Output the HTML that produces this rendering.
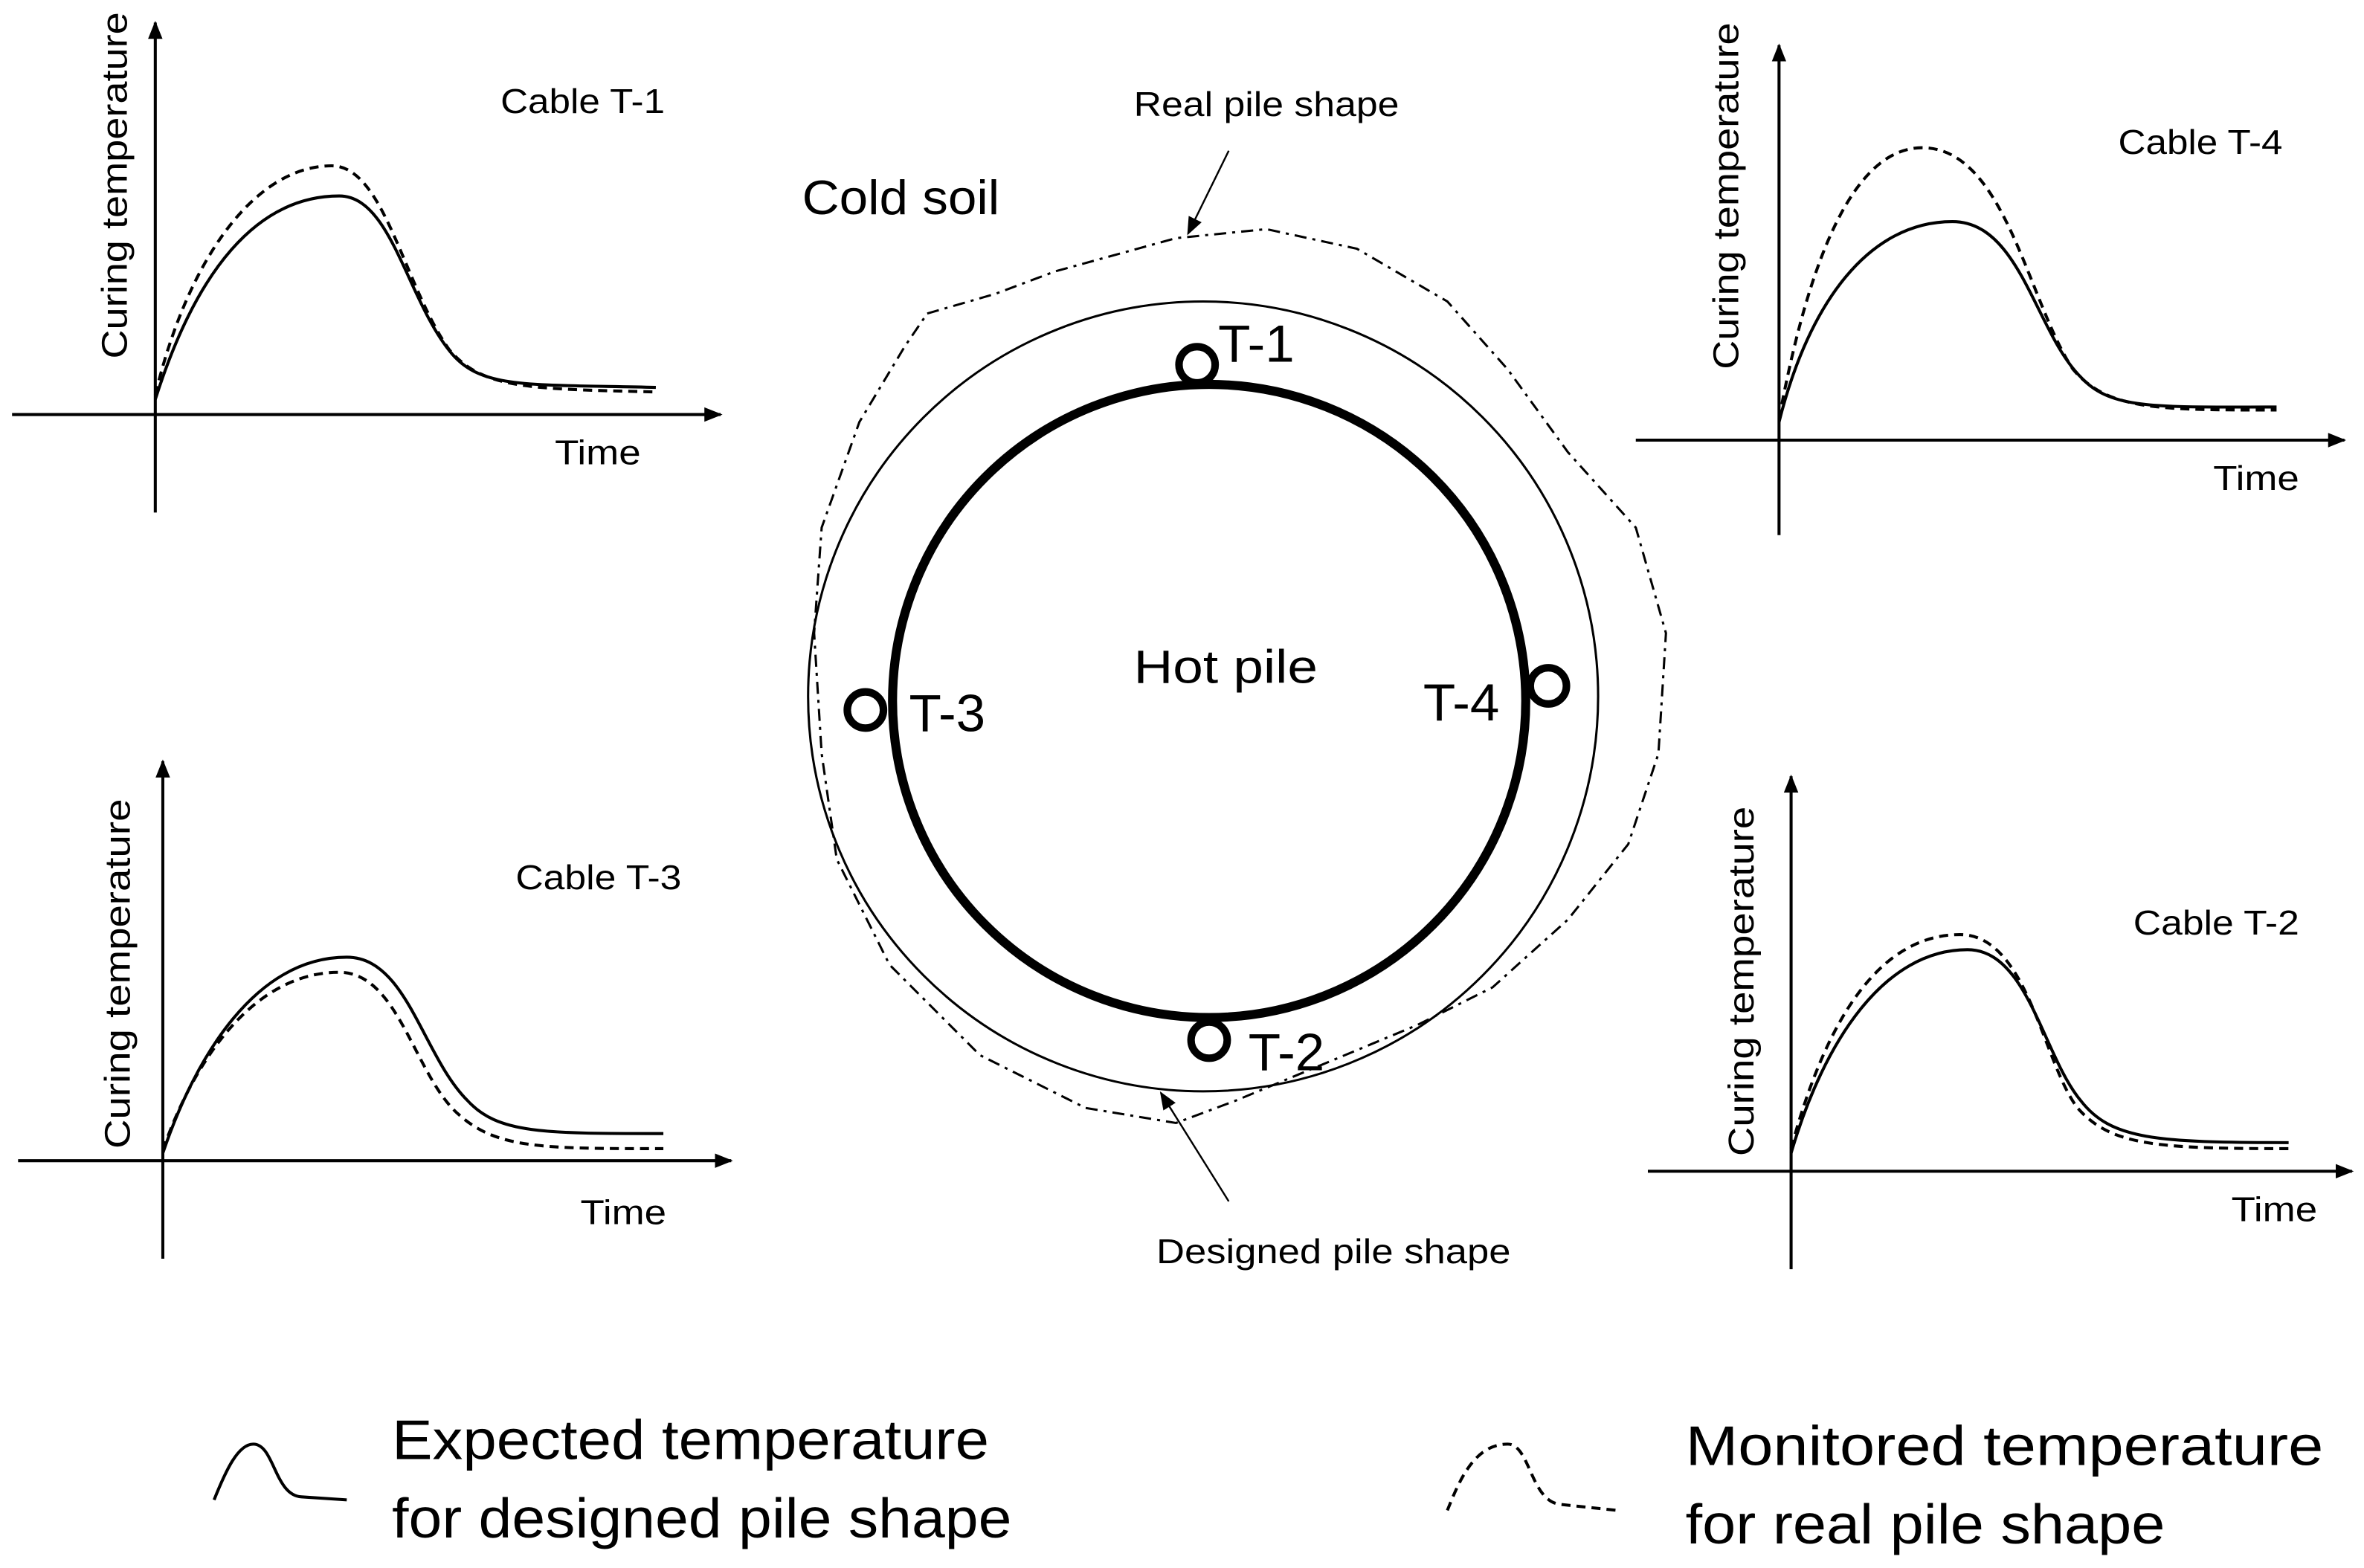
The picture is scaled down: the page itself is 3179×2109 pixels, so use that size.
<!DOCTYPE html>
<html><head><meta charset="utf-8"><style>html,body{margin:0;padding:0;background:#fff}svg{display:block}</style></head><body>
<svg xmlns="http://www.w3.org/2000/svg" width="3179" height="2109" viewBox="0 0 1568 1040.2" preserveAspectRatio="none" font-family="Liberation Sans, sans-serif">
<defs>
<marker id="ar2" viewBox="0 0 10 10" refX="9" refY="5" markerWidth="12" markerHeight="12" markerUnits="userSpaceOnUse" orient="auto"><path d="M0,1 L10,5 L0,9 Z" fill="#000"/></marker>
</defs>
<g stroke="#000" fill="none" stroke-width="2">
<line x1="103" y1="340" x2="103" y2="15" marker-end="url(#ar2)"/>
<line x1="8" y1="275" x2="478" y2="275" marker-end="url(#ar2)"/>
<path d="M103,265 C130,180 170,130 225,130 C260,130 270,200 300,235 C320,258 350,255 435,257"/>
<path d="M103,262 C125,170 170,110 220,110 C255,110 268,190 298,232 C320,258 350,258 435,260" stroke-dasharray="6,4"/>
<line x1="1180" y1="355" x2="1180" y2="30" marker-end="url(#ar2)"/>
<line x1="1085" y1="292" x2="1555" y2="292" marker-end="url(#ar2)"/>
<path d="M1180,280 C1200,200 1240,147 1295,147 C1340,147 1350,220 1380,250 C1400,272 1430,270 1510,270"/>
<path d="M1180,278 C1200,170 1230,98 1275,98 C1330,98 1345,200 1375,245 C1398,272 1430,272 1510,272" stroke-dasharray="6,4"/>
<line x1="108" y1="835" x2="108" y2="505" marker-end="url(#ar2)"/>
<line x1="12" y1="770" x2="485" y2="770" marker-end="url(#ar2)"/>
<path d="M108,765 C130,700 170,635 230,635 C270,635 280,700 310,730 C330,752 360,752 440,752"/>
<path d="M108,763 C130,700 170,645 225,645 C265,645 275,715 305,740 C330,762 360,762 440,762" stroke-dasharray="6,4"/>
<line x1="1188" y1="842" x2="1188" y2="515" marker-end="url(#ar2)"/>
<line x1="1093" y1="777" x2="1560" y2="777" marker-end="url(#ar2)"/>
<path d="M1188,765 C1210,690 1250,630 1305,630 C1345,630 1355,700 1380,730 C1400,756 1430,758 1518,758"/>
<path d="M1188,762 C1210,680 1245,620 1300,620 C1345,620 1355,705 1378,735 C1400,760 1430,762 1518,762" stroke-dasharray="6,4"/>
<circle cx="798" cy="462" r="262" stroke-width="1.5"/>
<circle cx="802" cy="465" r="210" stroke-width="6"/>
<circle cx="794" cy="242" r="12" stroke-width="5" fill="#fff"/>
<circle cx="574" cy="471" r="12" stroke-width="5" fill="#fff"/>
<circle cx="1027" cy="455" r="12" stroke-width="5" fill="#fff"/>
<circle cx="802" cy="690" r="12" stroke-width="5" fill="#fff"/>
<path d="M615,208 L660,195 L700,180 L780,158 L840,152 L900,165 L960,200 L1000,245 L1040,300 L1085,350 L1105,420 L1100,500 L1080,560 L1040,610 L990,655 L940,680 L880,705 L820,730 L780,745 L720,735 L650,700 L590,640 L555,570 L545,500 L540,420 L545,350 L570,280 L600,230 Z" stroke-width="1.5" stroke-dasharray="8,4,2,4"/>
<line x1="815" y1="100" x2="788" y2="155" stroke-width="1.2" marker-end="url(#ar2)"/>
<line x1="815" y1="797" x2="770" y2="725" stroke-width="1.2" marker-end="url(#ar2)"/>
<path d="M142,995 C150,975 158,958 168,958 C182,958 182,992 200,993 L230,995"/>
<path d="M960,1002 C968,982 978,958 1000,958 C1015,958 1015,996 1035,998 L1073,1002" stroke-dasharray="6,4"/>
</g>
<g fill="#000" lengthAdjust="spacingAndGlyphs">
<text x="84" y="123" font-size="24" text-anchor="middle" textLength="230" lengthAdjust="spacingAndGlyphs" transform="rotate(-90 84 123)">Curing temperature</text>
<text x="1153" y="130" font-size="24" text-anchor="middle" textLength="230" lengthAdjust="spacingAndGlyphs" transform="rotate(-90 1153 130)">Curing temperature</text>
<text x="86" y="646" font-size="24" text-anchor="middle" textLength="232" lengthAdjust="spacingAndGlyphs" transform="rotate(-90 86 646)">Curing temperature</text>
<text x="1163" y="651" font-size="24" text-anchor="middle" textLength="232" lengthAdjust="spacingAndGlyphs" transform="rotate(-90 1163 651)">Curing temperature</text>
<text x="332" y="75" font-size="23" textLength="109" lengthAdjust="spacingAndGlyphs">Cable T-1</text>
<text x="368" y="308" font-size="23" textLength="57" lengthAdjust="spacingAndGlyphs">Time</text>
<text x="1405" y="102" font-size="23" textLength="109" lengthAdjust="spacingAndGlyphs">Cable T-4</text>
<text x="1468" y="325" font-size="23" textLength="57" lengthAdjust="spacingAndGlyphs">Time</text>
<text x="342" y="590" font-size="23" textLength="110" lengthAdjust="spacingAndGlyphs">Cable T-3</text>
<text x="385" y="812" font-size="23" textLength="57" lengthAdjust="spacingAndGlyphs">Time</text>
<text x="1415" y="620" font-size="23" textLength="110" lengthAdjust="spacingAndGlyphs">Cable T-2</text>
<text x="1480" y="810" font-size="23" textLength="57" lengthAdjust="spacingAndGlyphs">Time</text>
<text x="532" y="142" font-size="32" textLength="131" lengthAdjust="spacingAndGlyphs">Cold soil</text>
<text x="752" y="453" font-size="31" textLength="122" lengthAdjust="spacingAndGlyphs">Hot pile</text>
<text x="808" y="240" font-size="35">T-1</text>
<text x="603" y="485" font-size="35">T-3</text>
<text x="944" y="478" font-size="35">T-4</text>
<text x="828" y="710" font-size="35">T-2</text>
<text x="752" y="77" font-size="23" textLength="176" lengthAdjust="spacingAndGlyphs">Real pile shape</text>
<text x="767" y="838" font-size="23" textLength="235" lengthAdjust="spacingAndGlyphs">Designed pile shape</text>
<text x="260" y="968" font-size="37" textLength="396" lengthAdjust="spacingAndGlyphs">Expected temperature</text>
<text x="260" y="1020" font-size="37" textLength="411" lengthAdjust="spacingAndGlyphs">for designed pile shape</text>
<text x="1118" y="972" font-size="37" textLength="423" lengthAdjust="spacingAndGlyphs">Monitored temperature</text>
<text x="1118" y="1024" font-size="37" textLength="318" lengthAdjust="spacingAndGlyphs">for real pile shape</text>
</g>
</svg>
</body></html>
